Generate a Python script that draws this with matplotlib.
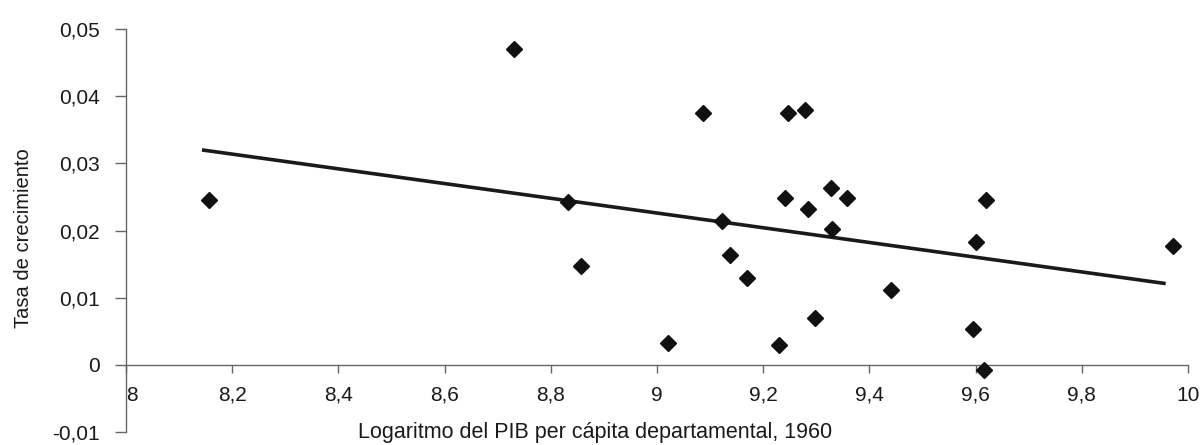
import numpy as np
import matplotlib
matplotlib.use('Agg')
import matplotlib.pyplot as plt

plt.rcParams['font.family'] = ['Liberation Sans', 'DejaVu Sans']

# log GDP per capita 1960 (x) vs growth rate (y)
log_pib = [8.157, 8.731, 8.833, 8.857, 9.021, 9.087, 9.122, 9.137, 9.169,
           9.230, 9.241, 9.246, 9.279, 9.285, 9.298, 9.327, 9.329, 9.357,
           9.441, 9.596, 9.601, 9.616, 9.619, 9.972]
tasa = [0.0246, 0.0470, 0.0243, 0.0147, 0.0032, 0.0375, 0.0214, 0.0163, 0.0130,
        0.0030, 0.0248, 0.0375, 0.0380, 0.0232, 0.0069, 0.0264, 0.0202, 0.0248,
        0.0112, 0.0053, 0.0183, -0.0007, 0.0246, 0.0177]

# fitted trend line end points
trend_x = [8.143, 9.958]
trend_y = [0.0320, 0.0121]

xticks = [8, 8.2, 8.4, 8.6, 8.8, 9, 9.2, 9.4, 9.6, 9.8, 10]
xtick_labels = ['8', '8,2', '8,4', '8,6', '8,8', '9', '9,2', '9,4', '9,6', '9,8', '10']
yticks = [-0.01, 0, 0.01, 0.02, 0.03, 0.04, 0.05]
ytick_labels = ['-0,01', '0', '0,01', '0,02', '0,03', '0,04', '0,05']

fig = plt.figure(figsize=(12, 4.45), dpi=100)
fig.patch.set_facecolor('white')
ax = fig.add_axes([0.105, 0.0292, 0.885, 0.9056])
ax.set_facecolor('white')

ax.plot(trend_x, trend_y, color='#1a1a1a', lw=2.6, solid_capstyle='butt', zorder=2)
ax.plot(log_pib, tasa, linestyle='none', marker='D', ms=8.5, color='#111111',
        markeredgecolor='#111111', zorder=3)

ax.set_xlim(8, 10)
ax.set_ylim(-0.01, 0.05)

# axes cross at y = 0
for s in ['top', 'right']:
    ax.spines[s].set_visible(False)
ax.spines['bottom'].set_position(('data', 0))
ax.spines['bottom'].set_color('#666666')
ax.spines['left'].set_color('#666666')
ax.spines['bottom'].set_linewidth(1)
ax.spines['left'].set_linewidth(1)

ax.set_xticks(xticks)
ax.set_xticklabels(xtick_labels)
ax.set_yticks(yticks)
ax.set_yticklabels(ytick_labels)
ax.tick_params(axis='x', direction='out', length=6, width=1, color='#666666',
               pad=9, labelsize=15, labelcolor='#1a1a1a')
ax.tick_params(axis='y', direction='out', length=8, width=1, color='#666666',
               pad=11, labelsize=15, labelcolor='#1a1a1a')
ax.get_xticklabels()[0].set_horizontalalignment('left')

ax.set_ylabel('Tasa de crecimiento', fontsize=14.5, color='#1a1a1a')
ax.yaxis.set_label_coords(-0.088, 0.48)
ax.text(0.442, 0.0, 'Logaritmo del PIB per cápita departamental, 1960',
        transform=ax.transAxes, ha='center', va='center', fontsize=15.5,
        color='#1a1a1a')

fig.savefig('out.png', dpi=100)
